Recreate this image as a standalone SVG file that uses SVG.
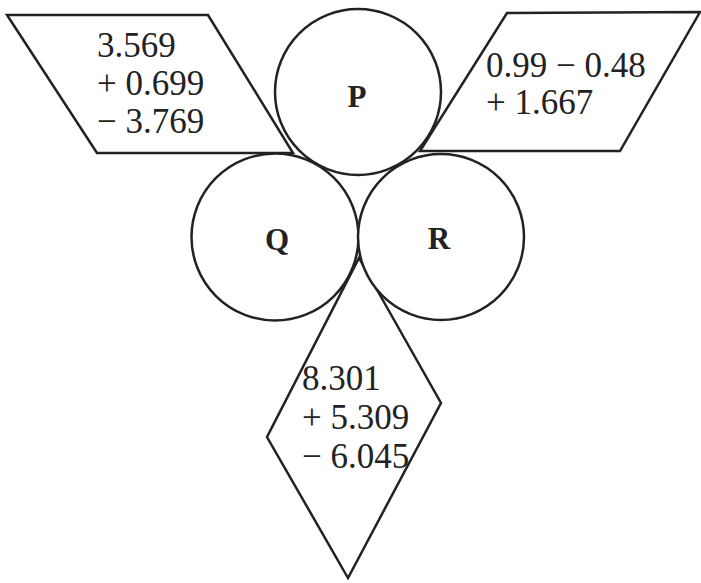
<svg xmlns="http://www.w3.org/2000/svg" width="701" height="583" viewBox="0 0 701 583">
<style>
.s{fill:#fff;stroke:#222;stroke-width:2.5;stroke-linejoin:miter}
.t{font-family:"Liberation Serif","Times New Roman",serif;font-size:35px;fill:#222}
.l{font-family:"Liberation Serif","Times New Roman",serif;font-size:31px;font-weight:bold;fill:#222;text-anchor:middle}
</style>
<rect width="701" height="583" fill="#fff"/>
<g id="box-left">
<polygon class="s" points="7,15 208,15 293,153 97,153"/>
<text class="t" x="97" y="57">3.569</text>
<text class="t" x="97" y="95">+ 0.699</text>
<text class="t" x="97" y="133">− 3.769</text>
</g>
<g id="box-right">
<polygon class="s" points="507,13 700,12 620,151 420,151"/>
<text class="t" x="486" y="77">0.99 − 0.48</text>
<text class="t" x="486" y="114">+ 1.667</text>
</g>
<g id="box-bottom">
<polygon class="s" points="359,258 441,403 348,578 267,437"/>
<text class="t" x="302" y="390">8.301</text>
<text class="t" x="302" y="429">+ 5.309</text>
<text class="t" x="302" y="468">− 6.045</text>
</g>
<g id="P">
<circle class="s" cx="358" cy="92" r="83"/>
<text class="l" x="357" y="107">P</text>
</g>
<g id="Q">
<circle class="s" cx="275" cy="237" r="83.5"/>
<text class="l" x="277" y="250">Q</text>
</g>
<g id="R">
<circle class="s" cx="441" cy="237" r="83"/>
<text class="l" x="439" y="249">R</text>
</g>
<g id="connectors"></g>
</svg>
